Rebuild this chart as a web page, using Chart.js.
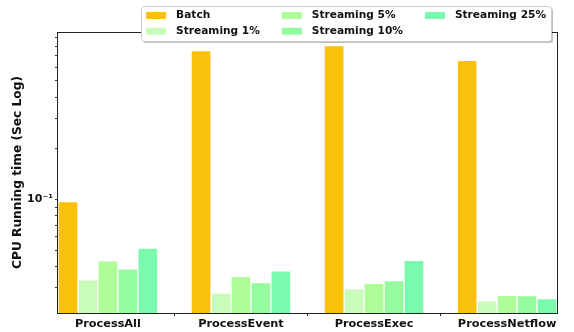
<!DOCTYPE html>
<html>
<head>
<meta charset="utf-8">
<script src="https://cdn.jsdelivr.net/npm/chart.js@4.4.0/dist/chart.umd.min.js"></script>
<style>
  html, body { margin: 0; padding: 0; background: #fff; }
  #wrap { width: 574px; height: 332px; }
</style>
</head>
<body>
<div id="wrap"><canvas id="cpuChart"></canvas></div>
<script>
// CPU running time per query, batch vs streaming windows (seconds)
const categories = ['ProcessAll', 'ProcessEvent', 'ProcessExec', 'ProcessNetflow'];
const seriesNames = ['Batch', 'Streaming 1%', 'Streaming 5%', 'Streaming 10%', 'Streaming 25%'];
const batch       = [0.097, 0.751, 0.805, 0.659];
const streaming1  = [0.0335, 0.0280, 0.0296, 0.0252];
const streaming5  = [0.0434, 0.0351, 0.0319, 0.0271];
const streaming10 = [0.0389, 0.0323, 0.0332, 0.0270];
const streaming25 = [0.0515, 0.0379, 0.0436, 0.0260];
const yTicks = [0.03, 0.04, 0.05, 0.06, 0.07, 0.08, 0.09, 0.1, 0.2, 0.3, 0.4, 0.5, 0.6, 0.7, 0.8, 0.9];

const seriesColors = ['#f9c109', '#c8fcba', '#aefd98', '#94fc9f', '#7afaad'];
const allSeries = [batch, streaming1, streaming5, streaming10, streaming25];
const barWidth = 0.15; // in category units
const FONT = '"DejaVu Sans", sans-serif';

const datasets = allSeries.map((vals, k) => ({
    label: seriesNames[k],
    data: vals.map((v, i) => ({ x: i + (k - 2) * barWidth, y: v })),
    backgroundColor: seriesColors[k],
    borderColor: '#ffffff',
    borderWidth: 1,
    borderSkipped: 'bottom',
    barThickness: 20,
    grouped: false
}));

// frame around the plot area plus a boxed legend laid out in columns
const frameAndLegend = {
    id: 'frameAndLegend',
    afterDraw(chart) {
        const ctx = chart.ctx;
        const a = chart.chartArea;
        ctx.save();
        ctx.strokeStyle = '#222';
        ctx.lineWidth = 1;
        ctx.strokeRect(Math.round(a.left) - 0.5, Math.round(a.top) + 0.5,
                       Math.round(a.right - a.left) + 1, Math.round(a.bottom - a.top));

        ctx.font = 'bold 10.6px ' + FONT;
        const rows = 2, pad = 5, sw = 20, sh = 7, gap = 10, colGap = 22, rowH = 15.7;
        const cols = Math.ceil(seriesNames.length / rows);
        const colW = [];
        for (let c = 0; c < cols; c++) {
            let w = 0;
            for (let r = 0; r < rows; r++) {
                const k = c * rows + r;
                if (k < seriesNames.length) w = Math.max(w, ctx.measureText(seriesNames[k]).width);
            }
            colW.push(sw + gap + w);
        }
        const boxW = colW.reduce((s, w) => s + w, 0) + colGap * (cols - 1) + pad * 2;
        const boxH = 35;
        const boxR = 551, boxT = 6;
        const boxL = boxR - boxW;

        ctx.fillStyle = 'rgba(0,0,0,0.25)';
        ctx.beginPath();
        ctx.roundRect(boxL + 2, boxT + 2, boxW, boxH, 3);
        ctx.fill();
        ctx.fillStyle = '#ffffff';
        ctx.strokeStyle = '#cccccc';
        ctx.beginPath();
        ctx.roundRect(boxL + 0.5, boxT + 0.5, boxW, boxH, 3);
        ctx.fill();
        ctx.stroke();

        ctx.textBaseline = 'middle';
        ctx.textAlign = 'left';
        let x = boxL + pad;
        for (let c = 0; c < cols; c++) {
            for (let r = 0; r < rows; r++) {
                const k = c * rows + r;
                if (k >= seriesNames.length) continue;
                const y = boxT + 9.5 + r * rowH;
                ctx.fillStyle = seriesColors[k];
                ctx.fillRect(x, y - sh / 2, sw, sh);
                ctx.fillStyle = '#111';
                ctx.fillText(seriesNames[k], x + sw + gap, y);
            }
            x += colW[c] + colGap;
        }
        ctx.restore();
    }
};

new Chart(document.getElementById('cpuChart'), {
    type: 'bar',
    data: { datasets: datasets },
    options: {
        responsive: true,
        maintainAspectRatio: false,
        animation: false,
        layout: { padding: { top: 32, right: 17, left: 0, bottom: 0 } },
        plugins: {
            legend: { display: false },
            tooltip: { enabled: false }
        },
        scales: {
            x: {
                type: 'linear',
                min: -2.5 * barWidth,
                max: categories.length - 1 + 2.5 * barWidth,
                offset: false,
                afterBuildTicks: scale => { scale.ticks = categories.map((c, i) => ({ value: i })); },
                afterFit: scale => { scale.height = 19; },
                ticks: {
                    autoSkip: false,
                    maxRotation: 0,
                    padding: 1,
                    color: '#111',
                    font: { family: FONT, size: 11.3, weight: 'bold' },
                    callback: v => categories[v]
                },
                grid: { drawOnChartArea: false, drawTicks: true, tickLength: 3, tickColor: '#222' },
                border: { display: false }
            },
            y: {
                type: 'logarithmic',
                min: 0.02135,
                max: 0.968,
                afterBuildTicks: scale => { scale.ticks = yTicks.map(v => ({ value: v })); },
                afterFit: scale => { scale.width = 58; },
                ticks: {
                    autoSkip: false,
                    padding: 2,
                    color: '#111',
                    font: { family: FONT, size: 11, weight: 'bold' },
                    callback: v => (v === 0.1 ? '10\u207B\u00B9' : '')
                },
                grid: { drawOnChartArea: false, drawTicks: true, tickLength: 3, tickColor: '#333' },
                border: { display: false },
                title: {
                    display: true,
                    text: 'CPU Running time (Sec Log)',
                    color: '#111',
                    font: { family: FONT, size: 12.2, weight: 'bold' },
                    padding: { top: 11, bottom: 0 }
                }
            }
        }
    },
    plugins: [frameAndLegend]
});
</script>
</body>
</html>
